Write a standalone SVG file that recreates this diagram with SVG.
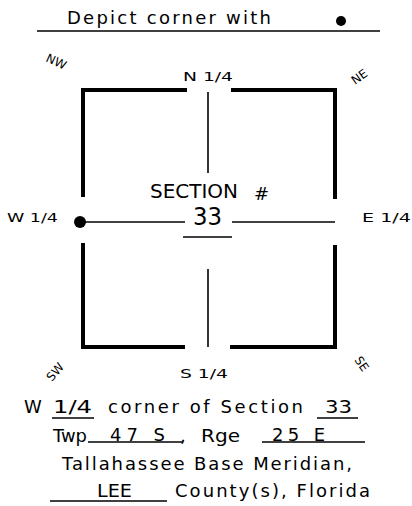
<svg xmlns="http://www.w3.org/2000/svg" width="412" height="506" viewBox="0 0 412 506">
<style>
text{font-family:"DejaVu Sans","Liberation Sans",Arial,sans-serif;fill:#000}
.t18{font-size:18px}
.t13{font-size:13px}
.t11{font-size:12px}
.thick{stroke:#000;stroke-width:4;fill:none;stroke-linecap:square;stroke-linejoin:miter}
.thin{stroke:#000;stroke-width:1.6;fill:none}
.ul{stroke:#000;stroke-width:1.4;fill:none}
</style>
<rect width="412" height="506" fill="#fff"/>
<g id="title">
<text class="t18" x="67" y="24" textLength="204" lengthAdjust="spacing">Depict corner with</text>
<circle cx="341" cy="21" r="5" fill="#000"/>
<line class="ul" x1="37" y1="31" x2="380" y2="31"/>
</g>
<g id="corner-labels">
<text class="t11" transform="translate(45,61) rotate(25)">NW</text>
<text class="t11" transform="translate(355,85) rotate(-35)">NE</text>
<text class="t11" transform="translate(52,382) rotate(-50)">SW</text>
<text class="t11" transform="translate(354,360) rotate(55)">SE</text>
</g>
<g id="section-box">
<path class="thick" d="M83,195 V90 H185"/>
<path class="thick" d="M233,90 H335 V197"/>
<path class="thick" d="M83,245 V347 H183"/>
<path class="thick" d="M232,347 H335 V247"/>
</g>
<g id="connectors">
<line class="thin" x1="208" y1="92" x2="208" y2="173"/>
<line class="thin" x1="208" y1="269" x2="208" y2="347"/>
<line class="thin" x1="80" y1="222" x2="185" y2="222"/>
<line class="thin" x1="232" y1="222" x2="335" y2="222"/>
<line class="ul" x1="183" y1="237" x2="232" y2="237"/>
</g>
<g id="quarter-labels">
<text class="t13" x="183" y="81" textLength="50" lengthAdjust="spacingAndGlyphs">N 1/4</text>
<text class="t13" x="7" y="222" textLength="51" lengthAdjust="spacingAndGlyphs">W 1/4</text>
<text class="t13" x="362" y="222" textLength="49" lengthAdjust="spacingAndGlyphs">E 1/4</text>
<text class="t13" x="180" y="378" textLength="48" lengthAdjust="spacingAndGlyphs">S 1/4</text>
</g>
<g id="w-quarter-corner">
<circle cx="80" cy="222" r="6" fill="#000"/>
</g>
<g id="section-label">
<text x="150" y="198" font-size="19" textLength="88" lengthAdjust="spacingAndGlyphs">SECTION</text>
<text x="254" y="200" font-size="18">#</text>
<text x="193" y="225" font-size="25" textLength="29" lengthAdjust="spacingAndGlyphs">33</text>
</g>
<g id="description">
<text class="t18" x="24" y="413">W</text>
<text class="t18" x="53" y="413" textLength="39" lengthAdjust="spacingAndGlyphs">1/4</text>
<line class="ul" x1="52" y1="418" x2="94" y2="418"/>
<text class="t18" x="108" y="413" textLength="195" lengthAdjust="spacing">corner of Section</text>
<text class="t18" x="325" y="413" textLength="27" lengthAdjust="spacingAndGlyphs">33</text>
<line class="ul" x1="317" y1="418" x2="358" y2="418"/>
<text class="t18" x="53" y="442" textLength="34" lengthAdjust="spacingAndGlyphs">Twp</text>
<text class="t18" x="110" y="441" textLength="55" lengthAdjust="spacing">47 S</text>
<line class="ul" x1="88" y1="442" x2="182" y2="442"/>
<text class="t18" x="180" y="442">,</text>
<text class="t18" x="201" y="442" textLength="39" lengthAdjust="spacingAndGlyphs">Rge</text>
<text class="t18" x="272" y="441" textLength="53" lengthAdjust="spacing">25 E</text>
<line class="ul" x1="262" y1="442" x2="365" y2="442"/>
<text class="t18" x="62" y="470" textLength="290" lengthAdjust="spacing">Tallahassee Base Meridian,</text>
<text class="t18" x="97" y="497" textLength="35" lengthAdjust="spacingAndGlyphs">LEE</text>
<line class="ul" x1="50" y1="501" x2="167" y2="501"/>
<text class="t18" x="175" y="497" textLength="195" lengthAdjust="spacing">County(s), Florida</text>
</g>
</svg>
